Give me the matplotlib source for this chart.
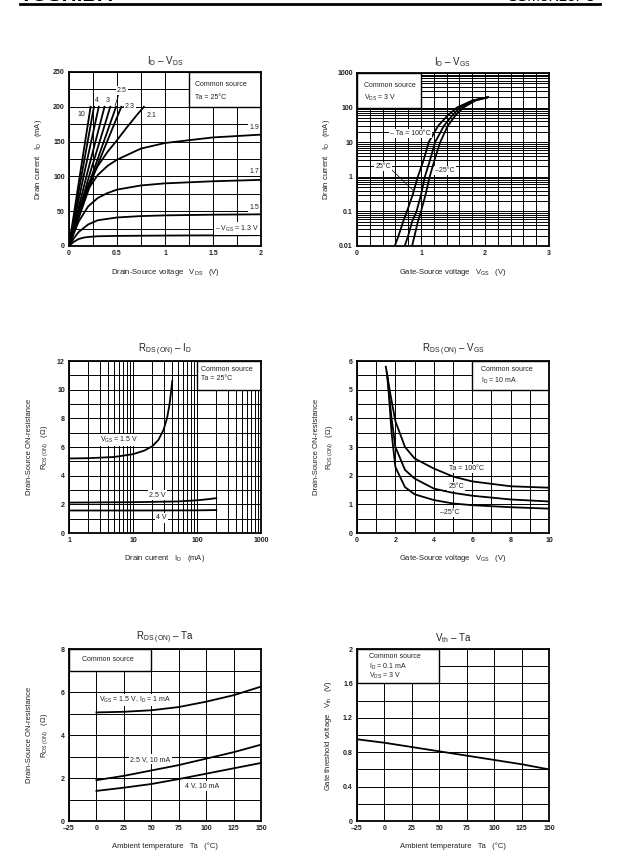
import numpy as np
import matplotlib.pyplot as plt
from matplotlib.patches import Rectangle
from matplotlib.lines import Line2D
from matplotlib.ticker import FixedLocator

plt.rcParams['font.family'] = ['Liberation Sans', 'DejaVu Sans']
plt.rcParams['mathtext.fontset'] = 'custom'
plt.rcParams['mathtext.rm'] = 'Liberation Sans'

# ---- data ----
# I_D - V_DS, Ta = 25C
vgs13_vds = [0, 0.05, 0.1, 0.15, 0.2, 0.3, 0.5, 1, 2]
vgs13_id = [0, 6, 10, 12, 13, 14, 14.5, 15, 15.5]
vgs15_vds = [0, 0.05, 0.1, 0.2, 0.3, 0.5, 0.75, 1, 1.5, 2]
vgs15_id = [0, 11, 20, 31, 37, 41, 43, 44, 45, 45.5]
vgs17_vds = [0, 0.05, 0.1, 0.2, 0.3, 0.4, 0.5, 0.75, 1, 1.5, 2]
vgs17_id = [0, 18, 35, 57, 69, 76, 81, 87, 90, 93, 95]
vgs19_vds = [0, 0.05, 0.1, 0.2, 0.3, 0.4, 0.5, 0.75, 1, 1.5, 2]
vgs19_id = [0, 25, 48, 82, 102, 115, 124, 140, 148, 156, 160]
vgs21_vds = [0, 0.1, 0.2, 0.3, 0.4, 0.5, 0.6, 0.7, 0.78]
vgs21_id = [0, 50, 88, 115, 135, 152, 170, 187, 200]
steep_end_vds = [0.225, 0.26, 0.31, 0.37, 0.43, 0.49, 0.545]   # 10 ... 2.3 V
steep_mid_id = [101, 101, 102, 102, 103, 104, 108]

# I_D - V_GS, V_DS = 3 V
idvgs_id = [0.01, 0.02, 0.05, 0.1, 0.3, 1, 3, 10, 30, 60, 100, 160, 200]
idvgs_100 = [0.59, 0.65, 0.72, 0.78, 0.87, 0.95, 1.04, 1.12, 1.27, 1.42, 1.56, 1.8, 2.05]
idvgs_25 = [0.745, 0.8, 0.86, 0.93, 1.0, 1.06, 1.14, 1.22, 1.36, 1.49, 1.61, 1.82, 2.05]
idvgs_m25 = [0.86, 0.9, 0.95, 1.0, 1.07, 1.135, 1.21, 1.30, 1.42, 1.54, 1.66, 1.85, 2.05]

# RDS(ON) - I_D, Ta = 25C
r15_id = [1, 2, 5, 10, 15, 20, 25, 30, 34, 37, 39, 41]
r15_r = [5.2, 5.22, 5.3, 5.5, 5.75, 6.05, 6.5, 7.2, 8.0, 8.9, 9.7, 10.6]
r25_id = [1, 10, 50, 100, 150, 200]
r25_r = [2.12, 2.15, 2.2, 2.28, 2.36, 2.43]
r4_id = [1, 10, 100, 200]
r4_r = [1.57, 1.57, 1.58, 1.6]

# RDS(ON) - V_GS, I_D = 10 mA
rv_vgs_100 = [1.5, 1.75, 2, 2.5, 3, 4, 5, 6, 8, 10]
rv_r_100 = [5.8, 4.8, 3.9, 3.0, 2.6, 2.25, 1.97, 1.8, 1.63, 1.58]
rv_vgs_25 = [1.55, 1.8, 2, 2.5, 3, 4, 5, 6, 8, 10]
rv_r_25 = [5.6, 4.0, 3.0, 2.2, 1.9, 1.55, 1.4, 1.3, 1.17, 1.1]
rv_vgs_m25 = [1.6, 1.8, 2, 2.5, 3, 4, 5, 6, 8, 10]
rv_r_m25 = [5.4, 3.5, 2.3, 1.6, 1.35, 1.15, 1.03, 0.97, 0.9, 0.85]

# RDS(ON) - Ta
ta = [0, 25, 50, 75, 100, 125, 150]
rt_15 = [5.05, 5.08, 5.15, 5.3, 5.55, 5.85, 6.25]
rt_25 = [1.9, 2.1, 2.35, 2.6, 2.9, 3.2, 3.55]
rt_4 = [1.4, 1.55, 1.72, 1.95, 2.2, 2.45, 2.7]

# Vth - Ta
vth_ta = [-25, 0, 25, 50, 75, 100, 125, 150]
vth = [0.95, 0.91, 0.86, 0.81, 0.76, 0.71, 0.66, 0.6]

W, H = 640, 863
fig = plt.figure(figsize=(W / 100, H / 100), dpi=100)
TXT = '#222222'


def add_ax(l, t, r, b):
    return fig.add_axes([l / W, 1 - b / H, (r - l) / W, (b - t) / H])


def setup(ax, xlim, ylim, xmaj, xlabs, ymaj, ylabs, xgrid, ygrid, xlog=False, ylog=False):
    if xlog:
        ax.set_xscale('log')
    if ylog:
        ax.set_yscale('log')
    ax.set_xlim(*xlim)
    ax.set_ylim(*ylim)
    ax.set_xticks(xmaj)
    ax.set_xticklabels(xlabs, fontweight='bold')
    ax.set_yticks(ymaj)
    ax.set_yticklabels(ylabs, fontweight='bold')
    ax.xaxis.set_minor_locator(FixedLocator(xgrid))
    ax.yaxis.set_minor_locator(FixedLocator(ygrid))
    ax.xaxis.set_minor_formatter(plt.NullFormatter())
    ax.yaxis.set_minor_formatter(plt.NullFormatter())
    ax.set_axisbelow(True)
    ax.grid(True, which='both', color='black', lw=0.7)
    ax.tick_params(which='both', length=0, labelsize=5, pad=3, colors=TXT)
    for s in ax.spines.values():
        s.set_linewidth(1.3)


def legend_box(ax, x0, x1, y0, y1, lines, xt, yts):
    ax.add_patch(Rectangle((x0, y0), x1 - x0, y1 - y0, facecolor='white',
                           edgecolor='black', lw=1.0, zorder=2))
    for s, yt in zip(lines, yts):
        ax.text(xt, yt, s, fontsize=5, color=TXT, va='center', zorder=5)


def label(ax, x, y, s, ha='left'):
    ax.text(x, y, s, fontsize=5, color=TXT, ha=ha, va='center', zorder=5,
            bbox=dict(facecolor='white', edgecolor='none', pad=0.8))


def titles(ax, title, xlab, ylabs, ylab_x, title_y, xlab_y):
    pos = ax.get_position()
    cx = (pos.x0 + pos.x1) / 2
    cy = (pos.y0 + pos.y1) / 2
    fig.text(cx, 1 - title_y / H, title, fontsize=7, color=TXT, ha='center', va='center')
    fig.text(cx, 1 - xlab_y / H, xlab, fontsize=5.5, color=TXT, ha='center', va='center')
    for s, x in zip(ylabs, ylab_x):
        fig.text(x / W, cy, s, fontsize=5.5, color=TXT, ha='center', va='center', rotation=90)


LW = 1.3

# ---------- header (cut off at the top of the page) ----------
fig.text(20 / W, 1 - 1.2 / H, 'TOSHIBA', fontsize=15, fontweight='bold', va='baseline')
fig.text(596 / W, 1 - 1.2 / H, 'SSM3K15FU', fontsize=11, ha='right', va='baseline')
fig.add_artist(Line2D([20 / W, 600 / W], [1 - 4.5 / H, 1 - 4.5 / H], color='black', lw=2))

# ---------- ID - VDS ----------
ax1 = add_ax(69, 72, 261, 246)
setup(ax1, (0, 2), (0, 250), [0, 0.5, 1, 1.5, 2], ['0', '0.5', '1', '1.5', '2'],
      [0, 50, 100, 150, 200, 250], ['0', '50', '100', '150', '200', '250'],
      np.arange(0, 2.01, 0.25), np.arange(0, 251, 25))
for v_end, mid in zip(steep_end_vds, steep_mid_id):
    ax1.plot([0, v_end / 2, v_end], [0, mid, 200], color='black', lw=LW, zorder=3)
for xs, ys in [(vgs21_vds, vgs21_id), (vgs19_vds, vgs19_id), (vgs17_vds, vgs17_id),
               (vgs15_vds, vgs15_id), (vgs13_vds, vgs13_id)]:
    ax1.plot(xs, ys, color='black', lw=LW, zorder=3)
legend_box(ax1, 1.25, 2, 200, 250, ['Common source', 'Ta = 25°C'], 1.31, [232, 214])
label(ax1, 0.09, 189, '10')
label(ax1, 0.27, 209, '4')
label(ax1, 0.38, 209, '3')
label(ax1, 0.5, 223, '2.5')
label(ax1, 0.58, 201, '2.3')
label(ax1, 0.81, 187, '2.1')
label(ax1, 1.98, 170, '1.9', ha='right')
label(ax1, 1.98, 107, '1.7', ha='right')
label(ax1, 1.98, 56, '1.5', ha='right')
label(ax1, 1.98, 25, '– V$_{\\rm GS}$ = 1.3 V', ha='right')
ax1.plot([0.52, 0.48], [218, 202], color='black', lw=0.5, zorder=4)
ax1.plot([0.58, 0.55], [201, 199], color='black', lw=0.5, zorder=4)
titles(ax1, 'I$_{\\rm D}$ – V$_{\\rm DS}$', 'Drain-Source voltage   V$_{\\rm DS}$   (V)',
       ['Drain current   I$_{\\rm D}$   (mA)'], [38], 61, 272)

# ---------- ID - VGS ----------
ax2 = add_ax(357, 73, 549, 246)
dec = [m * 10.0 ** e for e in range(-2, 3) for m in range(1, 10)] + [1000]
setup(ax2, (0, 3), (0.01, 1000), [0, 1, 2, 3], ['0', '1', '2', '3'],
      [0.01, 0.1, 1, 10, 100, 1000], ['0.01', '0.1', '1', '10', '100', '1000'],
      np.arange(0, 3.01, 0.2), dec, ylog=True)
ax2.plot(idvgs_100, idvgs_id, color='black', lw=LW, zorder=3)
ax2.plot(idvgs_25, idvgs_id, color='black', lw=LW, zorder=3)
ax2.plot(idvgs_m25, idvgs_id, color='black', lw=LW, zorder=3)
legend_box(ax2, 0, 1.0, 100, 1000, ['Common source', 'V$_{\\rm DS}$ = 3 V'], 0.11, [430, 192])
label(ax2, 0.52, 18, '– Ta = 100°C')
label(ax2, 0.29, 2.0, '25°C')
label(ax2, 1.22, 1.5, '–25°C')
ax2.plot([0.52, 0.88], [1.75, 0.4], color='black', lw=0.5, zorder=4)
titles(ax2, 'I$_{\\rm D}$ – V$_{\\rm GS}$', 'Gate-Source voltage   V$_{\\rm GS}$   (V)',
       ['Drain current   I$_{\\rm D}$   (mA)'], [327], 62, 272)

# ---------- RDS(ON) - ID ----------
ax3 = add_ax(69, 361, 261, 533)
dec3 = [m * 10.0 ** e for e in range(0, 3) for m in range(1, 10)] + [1000]
setup(ax3, (1, 1000), (0, 12), [1, 10, 100, 1000], ['1', '10', '100', '1000'],
      [0, 2, 4, 6, 8, 10, 12], ['0', '2', '4', '6', '8', '10', '12'],
      dec3, np.arange(0, 12.1, 1), xlog=True)
ax3.plot(r15_id, r15_r, color='black', lw=LW, zorder=3)
ax3.plot(r25_id, r25_r, color='black', lw=LW, zorder=3)
ax3.plot(r4_id, r4_r, color='black', lw=LW, zorder=3)
legend_box(ax3, 100, 1000, 10, 12, ['Common source', 'Ta = 25°C'], 115, [11.4, 10.75])
label(ax3, 3.0, 6.5, 'V$_{\\rm GS}$ = 1.5 V')
label(ax3, 18, 2.65, '2.5 V')
label(ax3, 23, 1.05, '4 V')
titles(ax3, 'R$_{\\rm DS\\ (ON)}$ – I$_{\\rm D}$', 'Drain current   I$_{\\rm D}$   (mA)',
       ['Drain-Source ON-resistance', 'R$_{\\rm DS\\ (ON)}$   (Ω)'], [30, 45], 350, 559)

# ---------- RDS(ON) - VGS ----------
ax4 = add_ax(357, 361, 549, 533)
setup(ax4, (0, 10), (0, 6), [0, 2, 4, 6, 8, 10], ['0', '2', '4', '6', '8', '10'],
      [0, 1, 2, 3, 4, 5, 6], ['0', '1', '2', '3', '4', '5', '6'],
      np.arange(0, 10.1, 1), np.arange(0, 6.1, 0.5))
ax4.plot(rv_vgs_100, rv_r_100, color='black', lw=LW, zorder=3)
ax4.plot(rv_vgs_25, rv_r_25, color='black', lw=LW, zorder=3)
ax4.plot(rv_vgs_m25, rv_r_m25, color='black', lw=LW, zorder=3)
legend_box(ax4, 6, 10, 5, 6, ['Common source', 'I$_{\\rm D}$ = 10 mA'], 6.45, [5.72, 5.3])
label(ax4, 4.8, 2.26, 'Ta = 100°C')
label(ax4, 4.75, 1.62, '25°C')
label(ax4, 4.3, 0.72, '–25°C')
titles(ax4, 'R$_{\\rm DS\\ (ON)}$ – V$_{\\rm GS}$', 'Gate-Source voltage   V$_{\\rm GS}$   (V)',
       ['Drain-Source ON-resistance', 'R$_{\\rm DS\\ (ON)}$   (Ω)'], [317, 330], 350, 559)

# ---------- RDS(ON) - Ta ----------
ax5 = add_ax(69, 649, 261, 821)
setup(ax5, (-25, 150), (0, 8), [-25, 0, 25, 50, 75, 100, 125, 150],
      ['–25', '0', '25', '50', '75', '100', '125', '150'],
      [0, 2, 4, 6, 8], ['0', '2', '4', '6', '8'],
      np.arange(-25, 151, 25), np.arange(0, 8.1, 1))
ax5.plot(ta, rt_15, color='black', lw=LW, zorder=3)
ax5.plot(ta, rt_25, color='black', lw=LW, zorder=3)
ax5.plot(ta, rt_4, color='black', lw=LW, zorder=3)
legend_box(ax5, -25, 50, 7, 8, ['Common source'], -13, [7.5])
label(ax5, 2, 5.63, 'V$_{\\rm GS}$ = 1.5 V, I$_{\\rm D}$ = 1 mA')
label(ax5, 31, 2.88, '2.5 V, 10 mA')
label(ax5, 81, 1.63, '4 V, 10 mA')
titles(ax5, 'R$_{\\rm DS\\ (ON)}$ – Ta', 'Ambient temperature   Ta   (°C)',
       ['Drain-Source ON-resistance', 'R$_{\\rm DS\\ (ON)}$   (Ω)'], [30, 45], 638, 846)

# ---------- Vth - Ta ----------
ax6 = add_ax(357, 649, 549, 821)
setup(ax6, (-25, 150), (0, 2), [-25, 0, 25, 50, 75, 100, 125, 150],
      ['–25', '0', '25', '50', '75', '100', '125', '150'],
      [0, 0.4, 0.8, 1.2, 1.6, 2], ['0', '0.4', '0.8', '1.2', '1.6', '2'],
      np.arange(-25, 151, 25), np.arange(0, 2.01, 0.2))
ax6.plot(vth_ta, vth, color='black', lw=LW, zorder=3)
legend_box(ax6, -25, 50, 1.6, 2, ['Common source', 'I$_{\\rm D}$ = 0.1 mA', 'V$_{\\rm DS}$ = 3 V'],
           -14, [1.907, 1.79, 1.69])
titles(ax6, 'V$_{\\rm th}$ – Ta', 'Ambient temperature   Ta   (°C)',
       ['Gate threshold voltage   V$_{\\rm th}$   (V)'], [328], 638, 846)

fig.savefig('out.png', dpi=100)
